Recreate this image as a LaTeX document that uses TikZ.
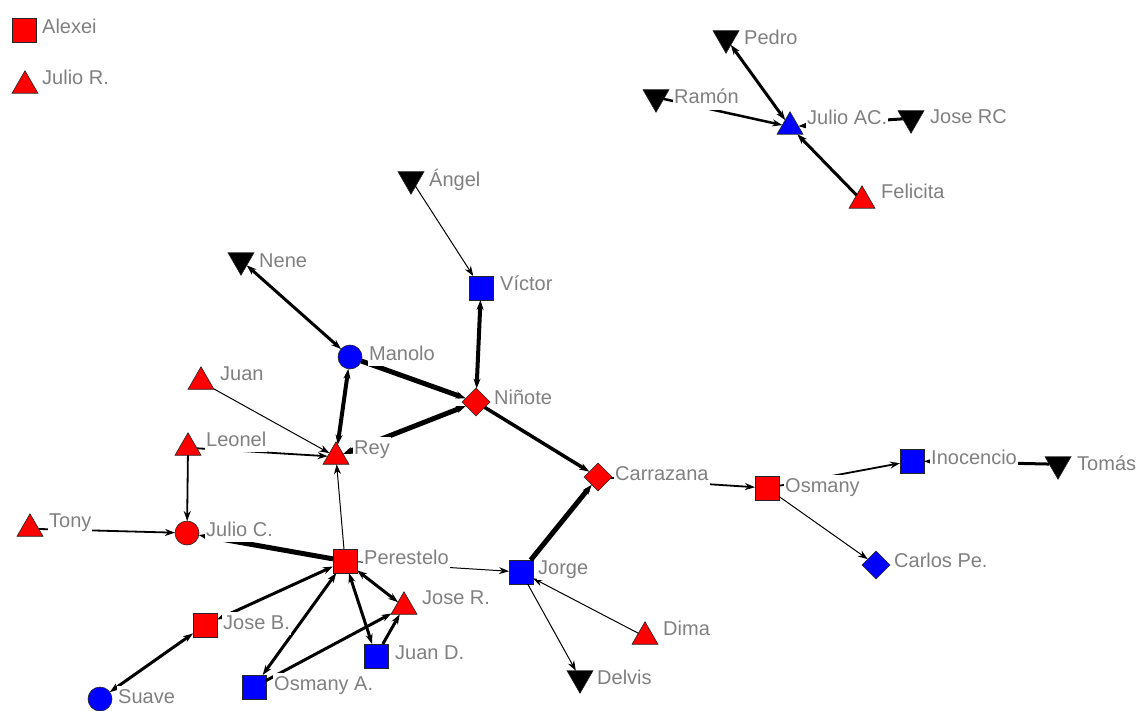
\documentclass[tikz,border=0pt]{standalone}
\usepackage{fontspec}
\setmainfont{Liberation Sans}
\usetikzlibrary{shapes.geometric,arrows.meta}
\definecolor{labgray}{RGB}{128,128,128}
\definecolor{nred}{RGB}{255,0,0}
\definecolor{nblue}{RGB}{0,0,255}
\begin{document}
\begin{tikzpicture}[x=1pt,y=-1pt,
  mk/.style={draw=black!85, line width=0.6pt, inner sep=0pt, outer sep=0pt},
  sqr/.style={mk, rectangle, minimum size=24pt},
  cir/.style={mk, circle, minimum size=24pt},
  dia/.style={mk, diamond, minimum size=28pt},
  tri/.style={mk, regular polygon, regular polygon sides=3, minimum size=30pt},
  itri/.style={tri, shape border rotate=180},
  lab/.style={anchor=base west, fill=white, text=labgray, inner sep=1pt,
    text height=16pt, text depth=5pt, font=\fontsize{20}{24}\selectfont},
  ln/.style={draw=black, line width=#1},
  one/.style={-{Stealth[length=10pt,width=7pt]}},
  two/.style={{Stealth[length=10pt,width=7pt]}-{Stealth[length=10pt,width=7pt]}}
]
\useasboundingbox (0,0) rectangle (1147,711);

% ---- shapes ----
\node[sqr, fill=nred]  (Alexei)    at (24.5,30.5) {};
\node[tri, fill=nred]  (JulioR)    at (25,85.75) {};
\node[itri, fill=black] (Pedro)    at (726,38.25) {};
\node[itri, fill=black] (Ramon)    at (656,97.25) {};
\node[tri, fill=nblue] (JulioAC)   at (790,126.75) {};
\node[itri, fill=black] (JoseRC)   at (911,118.25) {};
\node[tri, fill=nred]  (Felicita)  at (862,200.75) {};
\node[itri, fill=black] (Angel)    at (411,179.25) {};
\node[itri, fill=black] (Nene)     at (241,260.25) {};
\node[sqr, fill=nblue] (Victor)    at (481,288) {};
\node[cir, fill=nblue] (Manolo)    at (350,357) {};
\node[tri, fill=nred]  (Juan)      at (201,381.75) {};
\node[dia, fill=nred]  (Ninote)    at (476,402) {};
\node[tri, fill=nred]  (Leonel)    at (188,447.75) {};
\node[tri, fill=nred]  (Rey)       at (336,456.75) {};
\node[dia, fill=nred]  (Carrazana) at (598,477) {};
\node[sqr, fill=nred]  (Osmany)    at (767,488) {};
\node[sqr, fill=nblue] (Inocencio) at (912,461) {};
\node[itri, fill=black] (Tomas)    at (1058,464.25) {};
\node[tri, fill=nred]  (Tony)      at (30,528.75) {};
\node[cir, fill=nred]  (JulioC)    at (187,533) {};
\node[sqr, fill=nred]  (Perestelo) at (345,561) {};
\node[sqr, fill=nblue] (Jorge)     at (521,572) {};
\node[dia, fill=nblue] (CarlosPe)  at (876,565) {};
\node[tri, fill=nred]  (JoseR)     at (404,606.75) {};
\node[sqr, fill=nred]  (JoseB)     at (205,625) {};
\node[tri, fill=nred]  (Dima)      at (645,636.75) {};
\node[sqr, fill=nblue] (JuanD)     at (376,656) {};
\node[itri, fill=black] (Delvis)   at (580,678.25) {};
\node[sqr, fill=nblue] (OsmanyA)   at (254,687) {};
\node[cir, fill=nblue] (Suave)     at (100,699) {};

% ---- connectors ----
\draw[ln=3, two] (Pedro) -- (JulioAC);
\draw[ln=2.5, one] (Ramon) -- (JulioAC);
\draw[ln=3, one] (Felicita) -- (JulioAC);
\draw[ln=3, one] (JoseRC) -- (JulioAC);
\draw[ln=1, one] (Angel) -- (Victor);
\draw[ln=3, two] (Nene) -- (Manolo);
\draw[ln=4, two] (Victor) -- (Ninote);
\draw[ln=5, one] (Manolo) -- (Ninote);
\draw[ln=4, two] (Rey) -- (Manolo);
\draw[ln=5, two] (Rey) -- (Ninote);
\draw[ln=3.5, one] (Ninote) -- (Carrazana);
\draw[ln=1, one] (Juan) -- (Rey);
\draw[ln=1.8, one] (Leonel) -- (Rey);
\draw[ln=1.8, one] (Leonel) -- (JulioC);
\draw[ln=1.8, one] (Tony) -- (JulioC);
\draw[ln=5, one] (Perestelo) -- (JulioC);
\draw[ln=1, one] (Perestelo) -- (Rey);
\draw[ln=1, one] (Perestelo) -- (Jorge);
\draw[ln=3, two] (JoseB) -- (Perestelo);
\draw[ln=3, two] (OsmanyA) -- (Perestelo);
\draw[ln=3, two] (Perestelo) -- (JuanD);
\draw[ln=3, two] (Perestelo) -- (JoseR);
\draw[ln=3, one] (JuanD) -- (JoseR);
\draw[ln=3, one] (OsmanyA) -- (JoseR);
\draw[ln=3, two] (Suave) -- (JoseB);
\draw[ln=5, one] (Jorge) -- (Carrazana);
\draw[ln=1, one] (Dima) -- (Jorge);
\draw[ln=1, one] (Jorge) -- (Delvis);
\draw[ln=1.8, one] (Carrazana) -- (Osmany);
\draw[ln=1.8, one] (Osmany) -- (Inocencio);
\draw[ln=1, one] (Osmany) -- (CarlosPe);
\draw[ln=3, one] (Tomas) -- (Inocencio);

% ---- labels ----
\node[lab] (lAlexei)    at (41,34)   {Alexei};
\node[lab] (lJulioR)    at (41,85)   {Julio R.};
\node[lab] (lPedro)     at (743,45)  {Pedro};
\node[lab] (lRamon)     at (673,104) {Ramón};
\node[lab] (lJulioAC)   at (806,125) {Julio AC.};
\node[lab] (lJoseRC)    at (929,124) {Jose RC};
\node[lab] (lFelicita)  at (880,199) {Felicita};
\node[lab] (lAngel)     at (428,187) {Ángel};
\node[lab] (lNene)      at (258,267) {Nene};
\node[lab] (lVictor)    at (499,290) {Víctor};
\node[lab] (lManolo)    at (368,360) {Manolo};
\node[lab] (lJuan)      at (219,380) {Juan};
\node[lab] (lNinote)    at (493,404) {Niñote};
\node[lab] (lLeonel)    at (205,446) {Leonel};
\node[lab] (lRey)       at (353,454) {Rey};
\node[lab] (lCarrazana) at (614,480) {Carrazana};
\node[lab] (lOsmany)    at (784,492) {Osmany};
\node[lab] (lInocencio) at (930,464) {Inocencio};
\node[lab] (lTomas)     at (1076,470) {Tomás};
\node[lab] (lTony)      at (48,527)  {Tony};
\node[lab] (lJulioC)    at (205,536) {Julio C.};
\node[lab] (lPerestelo) at (363,564) {Perestelo};
\node[lab] (lJorge)     at (537,574) {Jorge};
\node[lab] (lCarlosPe)  at (893,567) {Carlos Pe.};
\node[lab] (lJoseR)     at (421,604) {Jose R.};
\node[lab] (lJoseB)     at (222,629) {Jose B.};
\node[lab] (lDima)      at (662,635) {Dima};
\node[lab] (lJuanD)     at (394,659) {Juan D.};
\node[lab] (lDelvis)    at (596,684) {Delvis};
\node[lab] (lOsmanyA)   at (273,690) {Osmany A.};
\node[lab] (lSuave)     at (117,703) {Suave};
\end{tikzpicture}
\end{document}
